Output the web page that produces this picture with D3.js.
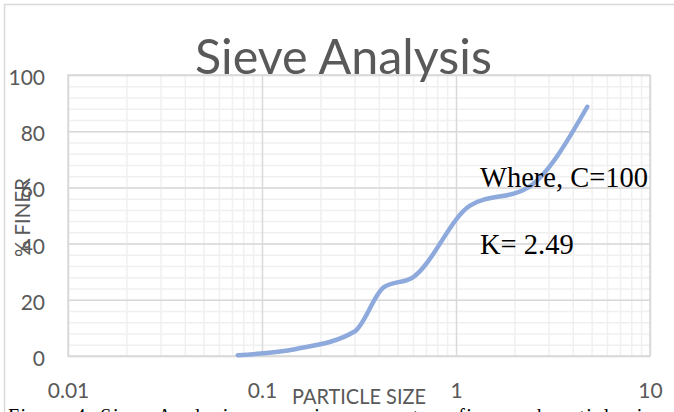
<!DOCTYPE html>
<html>
<head>
<meta charset="utf-8">
<script src="https://cdn.jsdelivr.net/npm/d3@7/dist/d3.min.js"></script>
<style>
  html, body { margin: 0; padding: 0; background: #fff; }
  svg { display: block; }
</style>
</head>
<body>
<svg id="chart" width="674" height="412"></svg>
<script>
// sieve data (particle size in mm, % finer)
const sizes = [0.075, 0.15, 0.3, 0.425, 0.6, 1.18, 2.36, 4.75];
const finer = [0.3, 2.5, 8.7, 24.5, 28, 53.5, 60, 88.7];

const xTicks = [0.01, 0.1, 1, 10];
const yTicks = [0, 20, 40, 60, 80, 100];
const yMinor = d3.range(0, 101, 4);

const chartTitle = 'Sieve Analysis';
const xTitle = 'PARTICLE SIZE';
const yTitle = '% FINER';
const notes = ['Where, C=100', 'K= 2.49'];
const caption = 'Figure 4: Sieve Analysis comparing percentage finer and particle size';

const W = 674;
const H = 412;
const plot = { left: 68, right: 650, top: 75, bottom: 356 };
const sans = 'Lato, "Open Sans", sans-serif';
const serif = '"Liberation Serif", "Times New Roman", serif';

const svg = d3.select('#chart');

// outer chart frame
svg.append('rect')
  .attr('x', 4.5).attr('y', 4.5)
  .attr('width', W + 10).attr('height', H + 10)
  .attr('fill', '#fff')
  .attr('stroke', '#d9d9d9')
  .attr('stroke-width', 1.5);

const x = d3.scaleLog()
  .domain([0.01, 10])
  .range([plot.left, plot.right]);

const y = d3.scaleLinear()
  .domain([0, 100])
  .range([plot.bottom, plot.top]);

const plotH = plot.bottom - plot.top;
const plotW = plot.right - plot.left;

// minor log gridlines 2..9 per decade
const xMinor = [];
[0.01, 0.1, 1].forEach((d) => {
  for (let k = 2; k <= 9; k++) xMinor.push(d * k);
});

// Gridlines
svg.append('g')
  .attr('transform', `translate(0,${plot.bottom})`)
  .call(d3.axisBottom(x).tickValues(xMinor).tickSize(-plotH).tickFormat(''))
  .call((g) => g.select('.domain').remove())
  .call((g) => g.selectAll('line').attr('stroke', '#f0f0f0').attr('stroke-width', 1.5));

svg.append('g')
  .attr('transform', `translate(${plot.left},0)`)
  .call(d3.axisLeft(y).tickValues(yMinor).tickSize(-plotW).tickFormat(''))
  .call((g) => g.select('.domain').remove())
  .call((g) => g.selectAll('line').attr('stroke', '#f0f0f0').attr('stroke-width', 1.5));

svg.append('g')
  .attr('transform', `translate(${plot.left},0)`)
  .call(d3.axisLeft(y).tickValues(yTicks).tickSize(-plotW).tickFormat(''))
  .call((g) => g.select('.domain').remove())
  .call((g) => g.selectAll('line').attr('stroke', '#d9d9d9').attr('stroke-width', 1.5));

svg.append('g')
  .attr('transform', `translate(0,${plot.bottom})`)
  .call(d3.axisBottom(x).tickValues(xTicks).tickSize(-plotH).tickFormat(''))
  .call((g) => g.select('.domain').remove())
  .call((g) => g.selectAll('line').attr('stroke', '#d9d9d9').attr('stroke-width', 1.5));

// plot border
svg.append('rect')
  .attr('x', plot.left).attr('y', plot.top)
  .attr('width', plotW).attr('height', plotH)
  .attr('fill', 'none')
  .attr('stroke', '#d9d9d9')
  .attr('stroke-width', 1.5);

// Tick labels
const yAxis = svg.append('g')
  .attr('transform', `translate(${plot.left},0)`)
  .call(d3.axisLeft(y).tickValues(yTicks).tickSize(0).tickPadding(23));
yAxis.select('.domain').remove();
yAxis.selectAll('text')
  .attr('dy', '0.45em')
  .attr('fill', '#595959')
  .style('font-family', sans)
  .style('font-size', '21px');

const xAxis = svg.append('g')
  .attr('transform', `translate(0,${plot.bottom})`)
  .call(d3.axisBottom(x).tickValues(xTicks).tickSize(0).tickFormat((d) => String(d)));
xAxis.select('.domain').remove();
xAxis.selectAll('text')
  .attr('y', 42)
  .attr('dy', 0)
  .attr('fill', '#595959')
  .style('font-family', sans)
  .style('font-size', '21px');

// Curve
const line = d3.line()
  .x((d, i) => x(sizes[i]))
  .y((d) => y(d))
  .curve(d3.curveMonotoneX);

svg.append('path')
  .datum(finer)
  .attr('d', line)
  .attr('fill', 'none')
  .attr('stroke', '#8eaadd')
  .attr('stroke-width', 4.5)
  .attr('stroke-linecap', 'round')
  .attr('stroke-linejoin', 'round');

// Titles
svg.append('text')
  .attr('x', 343.5)
  .attr('y', 73.5)
  .attr('text-anchor', 'middle')
  .attr('fill', '#595959')
  .attr('textLength', 297)
  .attr('lengthAdjust', 'spacingAndGlyphs')
  .style('font-family', sans)
  .style('font-size', '49px')
  .text(chartTitle);

svg.append('text')
  .attr('x', 359)
  .attr('y', 404)
  .attr('text-anchor', 'middle')
  .attr('fill', '#595959')
  .attr('textLength', 134)
  .attr('lengthAdjust', 'spacingAndGlyphs')
  .style('font-family', sans)
  .style('font-size', '22px')
  .text(xTitle);

svg.append('text')
  .attr('transform', 'translate(30,217.5) rotate(-90)')
  .attr('text-anchor', 'middle')
  .attr('fill', '#595959')
  .attr('textLength', 79)
  .attr('lengthAdjust', 'spacingAndGlyphs')
  .style('font-family', sans)
  .style('font-size', '22px')
  .text(yTitle);

// Annotations
svg.selectAll('.note')
  .data(notes)
  .enter()
  .append('text')
  .attr('class', 'note')
  .attr('x', 480)
  .attr('y', (d, i) => 186.5 + i * 67)
  .attr('fill', '#000')
  .style('font-family', serif)
  .style('font-size', '28.5px')
  .text((d) => d);

// caption, mostly cut off by the bottom edge
svg.append('text')
  .attr('x', 8)
  .attr('y', 423)
  .attr('fill', '#000')
  .attr('textLength', 655)
  .attr('lengthAdjust', 'spacing')
  .style('font-family', serif)
  .style('font-size', '20px')
  .text(caption);
</script>
</body>
</html>
